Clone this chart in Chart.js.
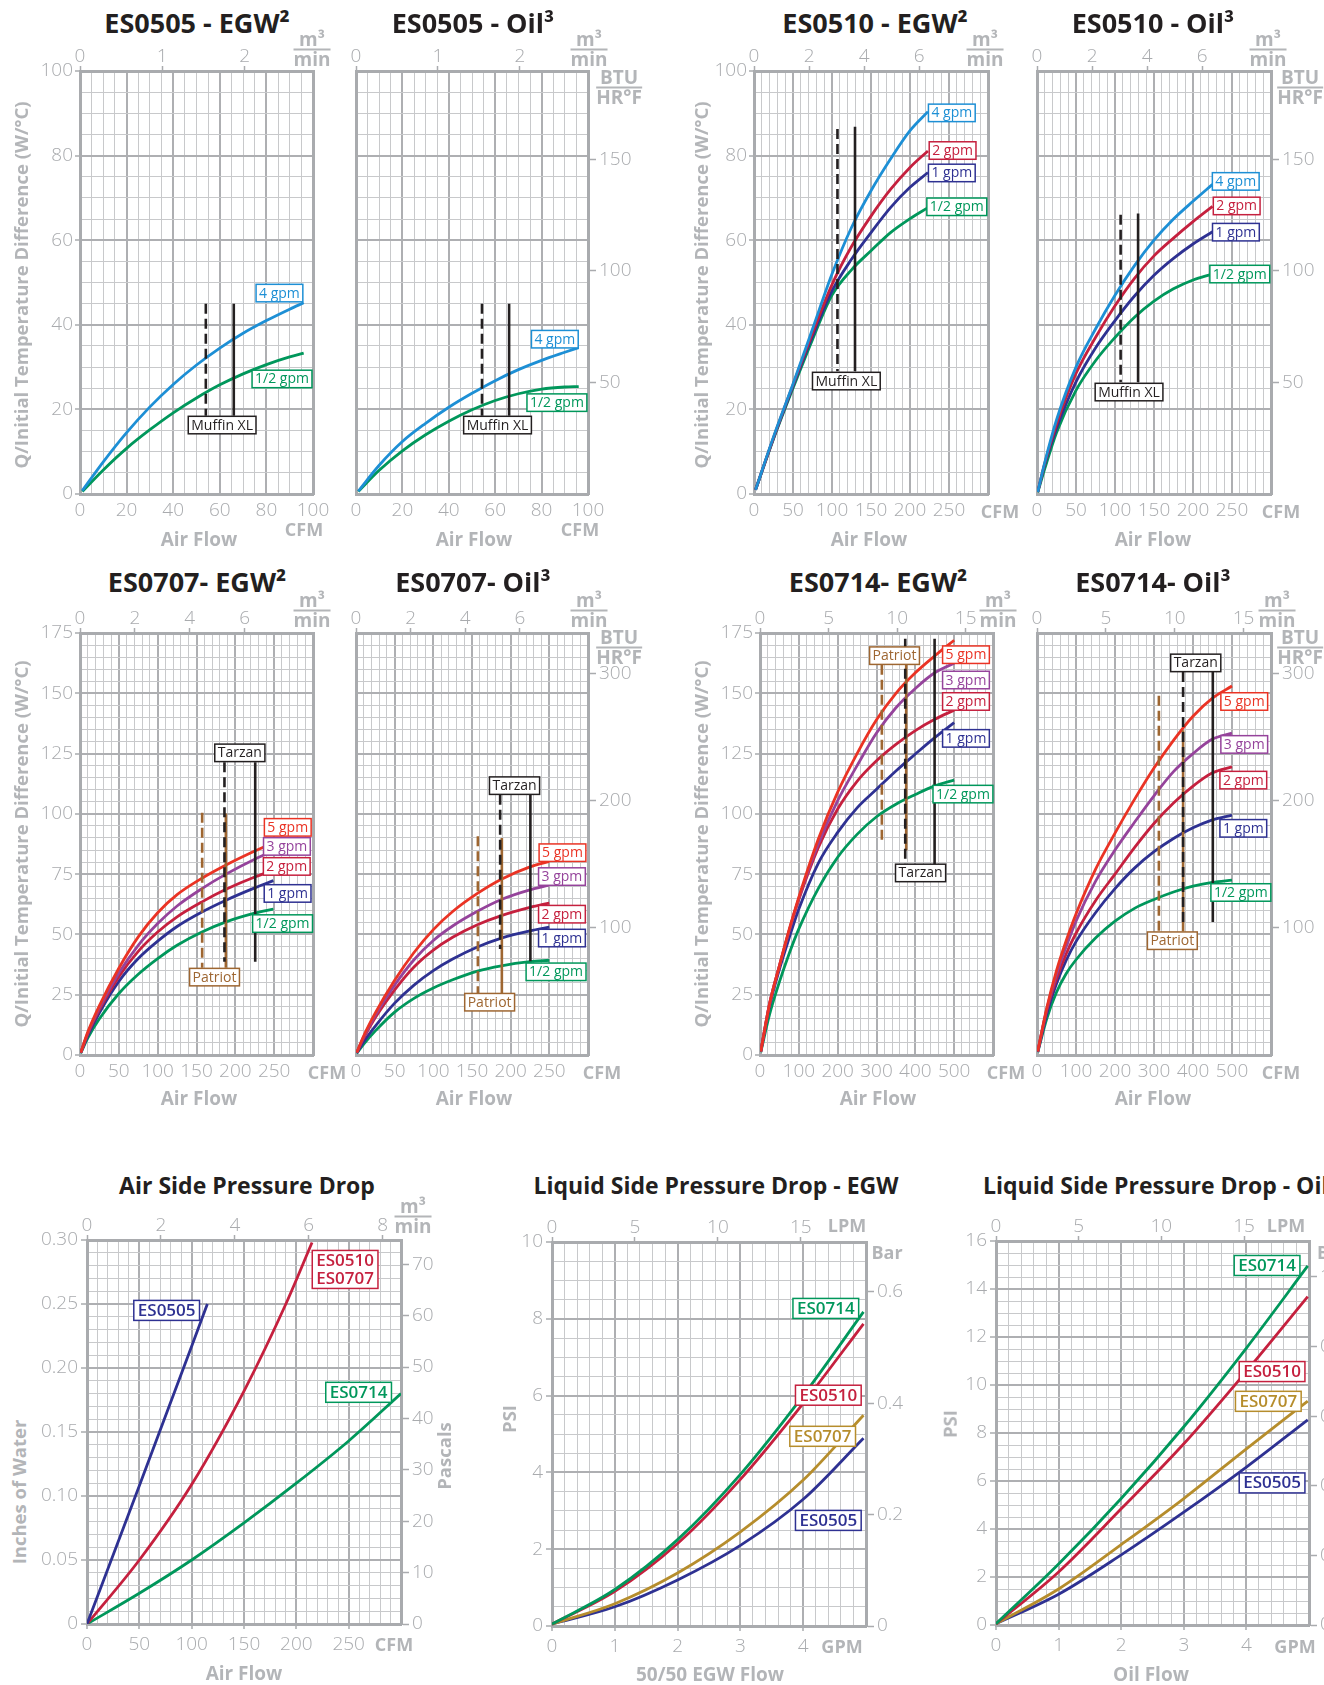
<!DOCTYPE html>
<html>
<head>
<meta charset="utf-8">
<title>ES series performance curves</title>
<script src="https://cdn.jsdelivr.net/npm/chart.js@4.4.1/dist/chart.umd.min.js"></script>
<style>
  html, body { margin: 0; padding: 0; background: #fff; }
  body { position: relative; width: 1324px; height: 1685px; overflow: hidden; font-family: 'Open Sans', 'Noto Sans', sans-serif; }
  canvas { position: absolute; }
  .lbl { position: absolute; white-space: nowrap; transform: translate(-50%, -50%); line-height: 1; }
  .left { transform: translate(0, -50%); }
  .title { font-weight: 700; color: #231f20; font-size: 27px; }
  .title3 { font-size: 23px; }
  .axt { font-weight: 700; color: #b3b5b8; font-size: 19px; }
  .vert { transform: translate(-50%, -50%) rotate(-90deg); font-size: 18.5px; }
  .unit { font-weight: 700; color: #b3b5b8; font-size: 18px; }
  .frac { text-align: center; line-height: 17px; font-size: 19px; }
  .frac span { display: block; }
  .frac span.num { border-bottom: 2px solid #b3b5b8; padding: 0 1px 1px; }
</style>
</head>
<body>
<script>
// ---------------------------------------------------------------
// Data
// ---------------------------------------------------------------

// ES0505 - air flow CFM vs Q/ITD (W/C)
var es0505Cfm = [1, 10, 20, 30, 40, 50, 60, 70, 80, 90, 96];
var es0505Egw4 = [0.8, 7.6, 14.5, 20.6, 25.9, 30.5, 34.5, 38, 41, 43.7, 45.2];
var es0505Egw05 = [0.6, 5.7, 10.8, 15.2, 19.2, 22.7, 25.8, 28.4, 30.6, 32.4, 33.3];
var es0505Oil4 = [0.7, 6.8, 12.4, 16.7, 20.5, 23.8, 26.8, 29.4, 31.6, 33.5, 34.6];
var es0505Oil05 = [0.6, 5.6, 10.2, 14.0, 17.2, 19.9, 22.1, 23.7, 24.8, 25.3, 25.4];

// ES0510
var es0510EgwCfm = [2, 25, 50, 75, 100, 125, 150, 175, 200, 223];
var es0510Egw4 = [1, 13.5, 26, 39, 52, 63, 71.7, 79.2, 85.9, 90.4];
var es0510Egw2 = [1, 13.3, 25.8, 38, 49.5, 58.5, 65.7, 72, 77.2, 81.1];
var es0510Egw1 = [1, 13.2, 25.5, 37.3, 48, 55.5, 61.8, 67.7, 72.5, 76];
var es0510Egw05 = [1, 13, 25, 36.5, 47, 53, 57.5, 61.8, 65.1, 67.7];
var es0510OilCfm = [1, 10, 25, 50, 75, 100, 125, 150, 175, 200, 225];
var es0510Oil4 = [0.5, 7.5, 17.5, 30, 39, 47, 54, 60, 65, 69.2, 73.2];
var es0510Oil2 = [0.5, 7.3, 16.5, 28.5, 37, 44.5, 51, 56.3, 60.5, 64.4, 68];
var es0510Oil1 = [0.5, 7, 15.5, 26.5, 34.5, 41, 46.8, 51.7, 55.7, 59.1, 62];
var es0510Oil05 = [0.4, 6, 14.5, 24.5, 31.5, 37, 41.8, 45.6, 48.5, 50.6, 52];

// ES0707
var es0707EgwCfm = [1, 10, 25, 50, 75, 100, 125, 157, 188, 225, 249];
var es0707Egw5 = [1, 9.5, 20.5, 36, 49, 59, 66.5, 73.3, 78.8, 84.6, 88];
var es0707Egw3 = [1, 9, 19.5, 34, 45.5, 54.5, 61.8, 69, 75, 81.2, 84.5];
var es0707Egw2 = [1, 8.7, 18.7, 32.5, 43, 51, 57.3, 63.5, 68.7, 73.8, 76.5];
var es0707Egw1 = [0.9, 8, 17.5, 30.5, 40, 47.2, 53.3, 59.3, 64.2, 69.3, 72.3];
var es0707Egw05 = [0.8, 7, 15, 25.5, 33.5, 40, 45.5, 51, 55.2, 58.8, 60.5];
var es0707OilCfm = [1, 10, 25, 50, 75, 100, 125, 157, 188, 225, 250];
var es0707Oil5 = [1, 8, 17.5, 31, 42.5, 52, 59.5, 67, 72.9, 78, 80.3];
var es0707Oil3 = [1, 7.5, 16.5, 29, 39.5, 47.5, 53.5, 59.6, 64.5, 68.5, 70.4];
var es0707Oil2 = [1, 7, 15.5, 27, 36.5, 43.5, 48.8, 54, 57.8, 61.2, 63];
var es0707Oil1 = [0.8, 5.5, 12, 21.5, 29, 35, 39.8, 44.8, 48.5, 51.5, 53];
var es0707Oil05 = [0.7, 4.5, 10, 17.8, 23.5, 27.8, 31.2, 34.8, 37, 38.7, 39.3];

// ES0714
var es0714Cfm = [2, 25, 50, 75, 100, 150, 200, 250, 300, 350, 400, 450, 500];
var es0714Egw5 = [1.5, 21.5, 37, 52, 65.5, 89.5, 109, 125, 139, 150, 158.5, 165.5, 172];
var es0714Egw3 = [1.5, 21.5, 37, 51.5, 65, 87.5, 105.5, 120, 133.5, 144, 152, 158.5, 162.5];
var es0714Egw2 = [1.5, 21.5, 37, 51.5, 64.5, 86, 102, 113.5, 122, 128.8, 134.5, 139.2, 143];
var es0714Egw1 = [1.5, 20.5, 35.5, 48.5, 60.5, 79.5, 92.3, 102.5, 110.2, 117.8, 124.8, 131.6, 137.8];
var es0714Egw05 = [1.2, 17, 30.3, 42, 52.3, 69, 82, 91.5, 98.8, 104, 108, 111.6, 114];
var es0714Oil5 = [1.5, 19.5, 35, 47.5, 58.5, 77, 92, 106, 119, 130.5, 140.5, 148, 153];
var es0714Oil3 = [1.5, 19, 33.5, 45, 55.5, 72, 85, 96.5, 107.5, 117.5, 125, 131, 133.5];
var es0714Oil2 = [1.5, 18.5, 31.5, 42, 50.5, 64, 75, 86, 96, 104.5, 111.5, 117, 119.5];
var es0714Oil1 = [1.3, 17, 29.5, 39.3, 47, 59, 69, 77.5, 84.3, 89.8, 94.2, 97.5, 99.5];
var es0714Oil05 = [1.2, 15, 26, 33.8, 39.5, 48.5, 55.5, 60.8, 64.5, 67.6, 70, 71.6, 72.5];

// fan marker lines: [cfm, top, bottom] (dashed first, solid second)
var es0505EgwMuffin = [[54, 45, 18.5], [66, 45, 18.5]];
var es0505OilMuffin = [[54.3, 45, 18.5], [66, 45, 18.5]];
var es0510EgwMuffin = [[107, 86.3, 29], [129.5, 86.8, 29]];
var es0510OilMuffin = [[107.2, 66, 26.4], [129.6, 66.3, 26.4]];
var es0707EgwPatriot = [[157.3, 100.5, 36.2], [187.8, 100.1, 36.2]];
var es0707EgwTarzan = [[186, 121.4, 38.7], [225.6, 121.4, 38.7]];
var es0707OilPatriot = [[157.6, 90.7, 25.6], [188.6, 90, 25.6]];
var es0707OilTarzan = [[186.4, 107.9, 44], [225.5, 107.9, 38.9]];
var es0714EgwPatriot = [[313.8, 161.8, 88.9], [376.5, 161.8, 84.8]];
var es0714EgwTarzan = [[374, 172.6, 79.2], [449.6, 172.6, 79.2]];
var es0714OilPatriot = [[312.5, 149, 51.2], [374.6, 134.7, 51.2]];
var es0714OilTarzan = [[374.6, 158.8, 55], [450.8, 158.8, 55.2]];

// pressure drop
var airCfm0505 = [0, 50, 100, 115];
var airDp0505 = [0, 0.108, 0.217, 0.25];
var airCfm0510 = [0, 50, 100, 150, 190, 215];
var airDp0510 = [0, 0.05, 0.109, 0.182, 0.25, 0.298];
var airCfm0714 = [0, 50, 100, 150, 200, 250, 300];
var airDp0714 = [0, 0.024, 0.050, 0.079, 0.110, 0.143, 0.18];

var egwGpm = [0, 1, 2, 3, 4, 4.96];
var egwPsi0714 = [0.05, 0.95, 2.25, 3.95, 6.0, 8.18];
var egwPsi0510 = [0.05, 0.9, 2.15, 3.82, 5.8, 7.87];
var egwPsi0707 = [0.05, 0.58, 1.38, 2.45, 3.8, 5.49];
var egwPsi0505 = [0.05, 0.5, 1.2, 2.1, 3.3, 4.89];

var oilGpm = [0, 1, 2, 3, 4, 4.98];
var oilPsi0714 = [0.05, 2.54, 5.27, 8.26, 11.54, 14.96];
var oilPsi0510 = [0.05, 2.21, 4.84, 7.55, 10.57, 13.68];
var oilPsi0707 = [0.05, 1.5, 3.35, 5.27, 7.34, 9.33];
var oilPsi0505 = [0.05, 1.28, 2.92, 4.7, 6.58, 8.55];

// curve tags: [text, x, y]
var es0505EgwTags = [['4 gpm', 85.6, 47.5], ['1/2 gpm', 86.7, 27.2], ['Muffin XL', 61, 16.3]];
var es0505OilTags = [['4 gpm', 85.7, 36.6], ['1/2 gpm', 86.6, 21.6], ['Muffin XL', 61, 16.3]];
var es0510EgwTags = [['4 gpm', 253.6, 90.1], ['2 gpm', 254.6, 81.2], ['1 gpm', 253.6, 75.9], ['1/2 gpm', 260, 67.9], ['Muffin XL', 118.4, 26.7]];
var es0510OilTags = [['4 gpm', 254.8, 73.9], ['2 gpm', 256, 68.1], ['1 gpm', 255, 61.9], ['1/2 gpm', 260, 52], ['Muffin XL', 118, 24.1]];
var es0707EgwTags = [['5 gpm', 267.5, 94.4], ['3 gpm', 266.4, 86.5], ['2 gpm', 266.2, 78.2], ['1 gpm', 267.3, 67], ['1/2 gpm', 260.8, 54.5], ['Tarzan', 205.8, 125.3], ['Patriot', 173.2, 32.3]];
var es0707OilTags = [['5 gpm', 267, 83.9], ['3 gpm', 266.3, 74], ['2 gpm', 266.3, 58.4], ['1 gpm', 266.3, 48.5], ['1/2 gpm', 258.7, 34.5], ['Tarzan', 205, 111.7], ['Patriot', 172.8, 21.9]];
var es0714EgwTags = [['5 gpm', 530.4, 166], ['3 gpm', 530.4, 155.5], ['2 gpm', 530.4, 146.6], ['1 gpm', 530.4, 131.3], ['1/2 gpm', 522.6, 108.2], ['Patriot', 346.4, 165.6], ['Tarzan', 413.5, 75.5]];
var es0714OilTags = [['5 gpm', 531.4, 146.6], ['3 gpm', 531.4, 128.8], ['2 gpm', 529, 114], ['1 gpm', 529, 94], ['1/2 gpm', 522.7, 67.4], ['Tarzan', 407, 162.6], ['Patriot', 347, 47.4]];
var airTags = [['ES0505', 76.1, 0.245], ['ES0510\nES0707', 246.6, 0.277], ['ES0714', 259.5, 0.181]];
var egwTags = [['ES0714', 4.36, 8.27], ['ES0510', 4.40, 6.01], ['ES0707', 4.31, 4.94], ['ES0505', 4.40, 2.75]];
var oilTags = [['ES0714', 4.33, 14.98], ['ES0510', 4.41, 10.56], ['ES0707', 4.35, 9.32], ['ES0505', 4.41, 5.92]];

// tick labels
var cfmTicks100 = [0, 20, 40, 60, 80, 100];
var cfmTicks300 = [0, 50, 100, 150, 200, 250];
var cfmTicks600 = [0, 100, 200, 300, 400, 500];
var wTicks100 = [0, 20, 40, 60, 80, 100];
var wTicks175 = [0, 25, 50, 75, 100, 125, 150, 175];
var m3Ticks3 = [0, 1, 2];
var m3Ticks8 = [0, 2, 4, 6];
var m3Ticks17 = [0, 5, 10, 15];
var m3TicksAir = [0, 2, 4, 6, 8];
var btuTicks100 = [50, 100, 150];
var btuTicks175 = [100, 200, 300];
var inchTicks = [0, 0.05, 0.10, 0.15, 0.20, 0.25, 0.30];
var paTicks = [0, 10, 20, 30, 40, 50, 60, 70];
var gpmTicks = [0, 1, 2, 3, 4];
var lpmTicks = [0, 5, 10, 15];
var psiTicksEgw = [0, 2, 4, 6, 8, 10];
var psiTicksOil = [0, 2, 4, 6, 8, 10, 12, 14, 16];
var barTicksEgw = [0, 0.2, 0.4, 0.6];
var barTicksOil = [0, 0.2, 0.4, 0.6, 0.8, 1.0];

// unit conversions for the secondary axes
var CFM_PER_M3MIN = 35.3147;
var BTU_PER_W = 1.8956;
var PA_PER_INH2O = 249.09;
var LPM_PER_GPM = 3.78541;
var BAR_PER_PSI = 0.0689476;

// ---------------------------------------------------------------
// Styles
// ---------------------------------------------------------------
var BLUE = '#1d8fd5', CRIMSON = '#c5203e', NAVY = '#2e3192', GREEN = '#00975b',
    RED = '#ea3324', PURPLE = '#95439b', BROWN = '#9e6631', BLACK = '#231f20', GOLD = '#b68d2c';
var GRID_MINOR = '#c8c9cb', GRID_MAJOR = '#aeafb2', FRAME = '#a9abae', TICK_TXT = '#a9abae';
var TICK_FONT = { size: 19, weight: '300' };
var TAG_FONT = '400 14px "Open Sans", "Noto Sans", sans-serif';
var TAG_FONT_BIG = '600 17px "Open Sans", "Noto Sans", sans-serif';

Chart.defaults.font.family = "'Open Sans', 'Noto Sans', sans-serif";

function steps(max, step) {
    var out = [], n = Math.round(max / step);
    for (var i = 0; i <= n; i++) out.push(+(i * step).toFixed(6));
    return out;
}
function has(list, v) {
    return list.some(function (l) { return Math.abs(l - v) < 1e-6; });
}
function isMajor(v, major) {
    var r = v / major;
    return Math.abs(r - Math.round(r)) < 1e-6;
}
function fixSize(s, horiz, size) {
    if (horiz) s.height = size; else s.width = size;
    s.paddingLeft = s.paddingRight = s.paddingTop = s.paddingBottom = 0;
}
function plain(v) { return String(+v.toFixed(2)); }

// axis that carries the grid (bottom / left)
function gridAxis(pos, spec, size, tickLen, pad, showLabels) {
    var horiz = pos === 'bottom';
    var all = steps(spec.max, spec.step);
    var fmt = spec.fmt || plain;
    return {
        type: 'linear', position: pos, min: 0, max: spec.max,
        afterBuildTicks: function (s) { s.ticks = all.map(function (v) { return { value: v }; }); },
        afterFit: function (s) { fixSize(s, horiz, size); },
        ticks: {
            display: showLabels, autoSkip: false, maxRotation: 0, minRotation: 0, padding: pad,
            color: TICK_TXT, font: TICK_FONT,
            callback: function (v) { return has(spec.labels, v) ? fmt(v) : ''; }
        },
        grid: {
            color: function (c) { return c.tick && isMajor(c.tick.value, spec.major) ? GRID_MAJOR : GRID_MINOR; },
            lineWidth: function (c) { return c.tick && isMajor(c.tick.value, spec.major) ? 2 : 1; },
            drawTicks: showLabels && tickLen > 0, tickLength: tickLen, tickWidth: 1.5,
            tickColor: function (c) { return c.tick && has(spec.labels, c.tick.value) ? FRAME : 'rgba(0,0,0,0)'; }
        },
        border: { display: true, color: FRAME, width: 3 }
    };
}

// secondary unit axis (top / right)
function sideAxis(pos, spec, size, tickLen, pad) {
    var horiz = pos === 'top';
    var labels = spec ? spec.labels : [];
    var fmt = (spec && spec.fmt) || plain;
    return {
        type: 'linear', position: pos, min: 0, max: spec ? spec.max : 1,
        afterBuildTicks: function (s) {
            s.ticks = (labels.length ? labels : [0]).map(function (v) { return { value: v }; });
        },
        afterFit: function (s) { fixSize(s, horiz, size); },
        ticks: {
            display: labels.length > 0, autoSkip: false, maxRotation: 0, minRotation: 0, padding: pad,
            color: TICK_TXT, font: TICK_FONT, callback: function (v) { return fmt(v); }
        },
        grid: {
            display: labels.length > 0, drawOnChartArea: false, drawTicks: true,
            tickLength: tickLen, tickWidth: 1.5, tickColor: FRAME, color: 'rgba(0,0,0,0)'
        },
        border: { display: true, color: FRAME, width: 3 }
    };
}

function curve(xs, ys, color) {
    return {
        data: xs.map(function (x, i) { return { x: x, y: ys[i] }; }),
        borderColor: color, borderWidth: 2.8, pointRadius: 0, fill: false,
        cubicInterpolationMode: 'monotone'
    };
}
function markers(list, color) {
    return list.map(function (m, i) {
        return {
            data: [{ x: m[0], y: m[1] }, { x: m[0], y: m[2] }],
            borderColor: color, borderWidth: 2.6, pointRadius: 0, fill: false,
            borderDash: i === 0 ? [10, 5] : [], borderCapStyle: 'butt'
        };
    });
}
function tags(list, colors, font) {
    return list.map(function (t, i) {
        return { text: t[0], x: t[1], y: t[2], color: colors[i], font: font || TAG_FONT };
    });
}

function tagPlugin(items) {
    return {
        id: 'curveTags',
        afterDatasetsDraw: function (chart) {
            var ctx = chart.ctx, sx = chart.scales.x, sy = chart.scales.y;
            items.forEach(function (t) {
                var lines = t.text.split('\n');
                ctx.save();
                ctx.font = t.font;
                var big = t.font === TAG_FONT_BIG;
                var lh = big ? 18 : 14.5, padX = big ? 4 : 3, padY = big ? 1 : 1.5;
                var w = 0;
                lines.forEach(function (l) { w = Math.max(w, ctx.measureText(l).width); });
                w += padX * 2;
                var h = lines.length * lh + padY * 2;
                var cx = sx.getPixelForValue(t.x), cy = sy.getPixelForValue(t.y);
                ctx.fillStyle = '#fff';
                ctx.fillRect(cx - w / 2, cy - h / 2, w, h);
                ctx.lineWidth = 1.5;
                ctx.strokeStyle = t.color;
                ctx.strokeRect(cx - w / 2, cy - h / 2, w, h);
                ctx.fillStyle = t.color;
                ctx.textAlign = 'center';
                ctx.textBaseline = 'middle';
                lines.forEach(function (l, i) {
                    ctx.fillText(l, cx, cy - h / 2 + padY + lh * (i + 0.5) + 0.5);
                });
                ctx.restore();
            });
        }
    };
}

function makePanel(p) {
    var b = p.box, pad = p.pad;
    var cv = document.createElement('canvas');
    cv.width = b[2] - b[0] + pad[0] + pad[2];
    cv.height = b[3] - b[1] + pad[1] + pad[3];
    cv.style.left = (b[0] - pad[0]) + 'px';
    cv.style.top = (b[1] - pad[1]) + 'px';
    document.body.appendChild(cv);
    new Chart(cv, {
        type: 'line',
        data: { datasets: p.sets },
        options: {
            responsive: false, animation: false, events: [],
            layout: { padding: 0 },
            plugins: { legend: { display: false }, tooltip: { enabled: false } },
            scales: {
                x: gridAxis('bottom', p.x, pad[3], p.bottomTick || 0, p.bottomPad || 5, true),
                x2: sideAxis('top', p.top, pad[1], 5, -2),
                y: gridAxis('left', p.y, pad[0], p.leftTick || 5, p.leftPad || 2, !p.hideY),
                y2: sideAxis('right', p.right, pad[2], 8, 3)
            }
        },
        plugins: [tagPlugin(p.tags)]
    });
}

function put(html, x, y, cls) {
    var d = document.createElement('div');
    d.className = 'lbl ' + cls;
    d.style.left = x + 'px';
    d.style.top = y + 'px';
    d.innerHTML = html;
    document.body.appendChild(d);
}
function frac(num, den, x, y) {
    put('<span class="num">' + num + '</span><span>' + den + '</span>', x, y, 'unit frac');
}

// ---------------------------------------------------------------
// Heat transfer charts
// ---------------------------------------------------------------
var PAD_EGW = [48, 30, 24, 32], PAD_OIL = [30, 30, 58, 32];
var wAxis100 = { max: 100, step: 5, major: 20, labels: wTicks100 };
var wAxis175 = { max: 175, step: 5, major: 25, labels: wTicks175 };
var btuAxis100 = { max: 100 * BTU_PER_W, labels: btuTicks100 };
var btuAxis175 = { max: 175 * BTU_PER_W, labels: btuTicks175 };
var cfm100 = { max: 100, step: 5, major: 20, labels: cfmTicks100 };
var cfm300 = { max: 300, step: 10, major: 50, labels: cfmTicks300 };
var cfm600 = { max: 600, step: 20, major: 100, labels: cfmTicks600 };
var top100 = { max: 100 / CFM_PER_M3MIN, labels: m3Ticks3 };
var top300 = { max: 300 / CFM_PER_M3MIN, labels: m3Ticks8 };
var top600 = { max: 600 / CFM_PER_M3MIN, labels: m3Ticks17 };

makePanel({
    box: [80, 71, 313, 494], pad: PAD_EGW, x: cfm100, y: wAxis100, top: top100, right: null,
    sets: markers(es0505EgwMuffin, BLACK).concat([
        curve(es0505Cfm, es0505Egw4, BLUE), curve(es0505Cfm, es0505Egw05, GREEN)]),
    tags: tags(es0505EgwTags, [BLUE, GREEN, BLACK])
});
makePanel({
    box: [356, 71, 588, 494], pad: PAD_OIL, hideY: true, x: cfm100, y: wAxis100, top: top100, right: btuAxis100,
    sets: markers(es0505OilMuffin, BLACK).concat([
        curve(es0505Cfm, es0505Oil4, BLUE), curve(es0505Cfm, es0505Oil05, GREEN)]),
    tags: tags(es0505OilTags, [BLUE, GREEN, BLACK])
});
makePanel({
    box: [754, 71, 988, 494], pad: PAD_EGW, x: cfm300, y: wAxis100, top: top300, right: null,
    sets: markers(es0510EgwMuffin, BLACK).concat([
        curve(es0510EgwCfm, es0510Egw4, BLUE), curve(es0510EgwCfm, es0510Egw2, CRIMSON),
        curve(es0510EgwCfm, es0510Egw1, NAVY), curve(es0510EgwCfm, es0510Egw05, GREEN)]),
    tags: tags(es0510EgwTags, [BLUE, CRIMSON, NAVY, GREEN, BLACK])
});
makePanel({
    box: [1037, 71, 1271, 494], pad: PAD_OIL, hideY: true, x: cfm300, y: wAxis100, top: top300, right: btuAxis100,
    sets: markers(es0510OilMuffin, BLACK).concat([
        curve(es0510OilCfm, es0510Oil4, BLUE), curve(es0510OilCfm, es0510Oil2, CRIMSON),
        curve(es0510OilCfm, es0510Oil1, NAVY), curve(es0510OilCfm, es0510Oil05, GREEN)]),
    tags: tags(es0510OilTags, [BLUE, CRIMSON, NAVY, GREEN, BLACK])
});

makePanel({
    box: [80, 633, 313, 1055], pad: PAD_EGW, x: cfm300, y: wAxis175, top: top300, right: null,
    sets: markers(es0707EgwTarzan, BLACK).concat(markers(es0707EgwPatriot, BROWN), [
        curve(es0707EgwCfm, es0707Egw5, RED), curve(es0707EgwCfm, es0707Egw3, PURPLE),
        curve(es0707EgwCfm, es0707Egw2, CRIMSON), curve(es0707EgwCfm, es0707Egw1, NAVY),
        curve(es0707EgwCfm, es0707Egw05, GREEN)]),
    tags: tags(es0707EgwTags, [RED, PURPLE, CRIMSON, NAVY, GREEN, BLACK, BROWN])
});
makePanel({
    box: [356, 633, 588, 1055], pad: PAD_OIL, hideY: true, x: cfm300, y: wAxis175, top: top300, right: btuAxis175,
    sets: markers(es0707OilTarzan, BLACK).concat(markers(es0707OilPatriot, BROWN), [
        curve(es0707OilCfm, es0707Oil5, RED), curve(es0707OilCfm, es0707Oil3, PURPLE),
        curve(es0707OilCfm, es0707Oil2, CRIMSON), curve(es0707OilCfm, es0707Oil1, NAVY),
        curve(es0707OilCfm, es0707Oil05, GREEN)]),
    tags: tags(es0707OilTags, [RED, PURPLE, CRIMSON, NAVY, GREEN, BLACK, BROWN])
});
makePanel({
    box: [760, 633, 993, 1055], pad: PAD_EGW, x: cfm600, y: wAxis175, top: top600, right: null,
    sets: markers(es0714EgwTarzan, BLACK).concat(markers(es0714EgwPatriot, BROWN), [
        curve(es0714Cfm, es0714Egw5, RED), curve(es0714Cfm, es0714Egw3, PURPLE),
        curve(es0714Cfm, es0714Egw2, CRIMSON), curve(es0714Cfm, es0714Egw1, NAVY),
        curve(es0714Cfm, es0714Egw05, GREEN)]),
    tags: tags(es0714EgwTags, [RED, PURPLE, CRIMSON, NAVY, GREEN, BROWN, BLACK])
});
makePanel({
    box: [1037, 633, 1271, 1055], pad: PAD_OIL, hideY: true, x: cfm600, y: wAxis175, top: top600, right: btuAxis175,
    sets: markers(es0714OilTarzan, BLACK).concat(markers(es0714OilPatriot, BROWN), [
        curve(es0714Cfm, es0714Oil5, RED), curve(es0714Cfm, es0714Oil3, PURPLE),
        curve(es0714Cfm, es0714Oil2, CRIMSON), curve(es0714Cfm, es0714Oil1, NAVY),
        curve(es0714Cfm, es0714Oil05, GREEN)]),
    tags: tags(es0714OilTags, [RED, PURPLE, CRIMSON, NAVY, GREEN, BLACK, BROWN])
});

// ---------------------------------------------------------------
// Pressure drop charts
// ---------------------------------------------------------------
function twoDec(v) { return v === 0 ? '0' : v.toFixed(2); }
function oneDec(v) { return v === 0 ? '0' : v.toFixed(1); }

makePanel({
    box: [87, 1240, 401, 1624], pad: [50, 30, 46, 36], bottomTick: 5, bottomPad: 4, leftTick: 6, leftPad: 3,
    x: cfm300, y: { max: 0.30, step: 0.01, major: 0.05, labels: inchTicks, fmt: twoDec },
    top: { max: 300 / CFM_PER_M3MIN, labels: m3TicksAir },
    right: { max: 0.30 * PA_PER_INH2O, labels: paTicks },
    sets: [curve(airCfm0505, airDp0505, NAVY), curve(airCfm0510, airDp0510, CRIMSON),
        curve(airCfm0714, airDp0714, GREEN)],
    tags: tags(airTags, [NAVY, CRIMSON, GREEN], TAG_FONT_BIG)
});
makePanel({
    box: [552, 1242, 866, 1626], pad: [48, 30, 56, 36], bottomTick: 5, bottomPad: 4, leftTick: 6, leftPad: 3,
    x: { max: 5, step: 0.2, major: 1, labels: gpmTicks },
    y: { max: 10, step: 0.5, major: 2, labels: psiTicksEgw },
    top: { max: 5 * LPM_PER_GPM, labels: lpmTicks },
    right: { max: 10 * BAR_PER_PSI, labels: barTicksEgw, fmt: oneDec },
    sets: [curve(egwGpm, egwPsi0714, GREEN), curve(egwGpm, egwPsi0510, CRIMSON),
        curve(egwGpm, egwPsi0707, GOLD), curve(egwGpm, egwPsi0505, NAVY)],
    tags: tags(egwTags, [GREEN, CRIMSON, GOLD, NAVY], TAG_FONT_BIG)
});
makePanel({
    box: [996, 1241, 1309, 1625], pad: [48, 30, 56, 36], bottomTick: 5, bottomPad: 4, leftTick: 6, leftPad: 3,
    x: { max: 5, step: 0.2, major: 1, labels: gpmTicks },
    y: { max: 16, step: 0.5, major: 2, labels: psiTicksOil },
    top: { max: 5 * LPM_PER_GPM, labels: lpmTicks },
    right: { max: 16 * BAR_PER_PSI, labels: barTicksOil, fmt: oneDec },
    sets: [curve(oilGpm, oilPsi0714, GREEN), curve(oilGpm, oilPsi0510, CRIMSON),
        curve(oilGpm, oilPsi0707, GOLD), curve(oilGpm, oilPsi0505, NAVY)],
    tags: tags(oilTags, [GREEN, CRIMSON, GOLD, NAVY], TAG_FONT_BIG)
});

// ---------------------------------------------------------------
// Titles and axis names
// ---------------------------------------------------------------
put('ES0505 - EGW²', 197, 22, 'title');
put('ES0505 - Oil³', 473, 22, 'title');
put('ES0510 - EGW²', 875, 22, 'title');
put('ES0510 - Oil³', 1153, 22, 'title');
put('ES0707- EGW²', 197, 581, 'title');
put('ES0707- Oil³', 473, 581, 'title');
put('ES0714- EGW²', 878, 581, 'title');
put('ES0714- Oil³', 1153, 581, 'title');
put('Air Side Pressure Drop', 247, 1185, 'title title3');
put('Liquid Side Pressure Drop - EGW', 716, 1185, 'title title3');
put('Liquid Side Pressure Drop - Oil', 983, 1185, 'title title3 left');

var yName = 'Q/Initial Temperature Difference (W/°C)';
put(yName, 21, 285, 'axt vert');
put(yName, 701, 285, 'axt vert');
put(yName, 21, 844, 'axt vert');
put(yName, 701, 844, 'axt vert');
put('Inches of Water', 19, 1492, 'axt vert');
put('Pascals', 444, 1456, 'axt vert');
put('PSI', 509, 1419, 'axt vert');
put('PSI', 950, 1424, 'axt vert');

[[199, 539], [474, 539], [869, 539], [1153, 539], [199, 1098], [474, 1098], [878, 1098], [1153, 1098], [244, 1673]]
    .forEach(function (p) { put('Air Flow', p[0], p[1], 'axt'); });
put('50/50 EGW Flow', 710, 1674, 'axt');
put('Oil Flow', 1151, 1674, 'axt');

[[304, 529], [580, 529], [1000, 511], [1281, 511], [327, 1072], [602, 1072], [1006, 1072], [1281, 1072], [394, 1644]]
    .forEach(function (p) { put('CFM', p[0], p[1], 'unit'); });
put('GPM', 842, 1646, 'unit');
put('GPM', 1295, 1646, 'unit');
put('LPM', 847, 1225, 'unit');
put('LPM', 1286, 1225, 'unit');
put('Bar', 887, 1252, 'unit');
put('Bar', 1317, 1252, 'unit left');

[[312, 49], [589, 49], [985, 49], [1268, 49], [312, 610], [589, 610], [998, 610], [1277, 610], [413, 1216]]
    .forEach(function (p) { frac('m³', 'min', p[0], p[1]); });
[[619, 87], [1300, 87], [619, 647], [1300, 647]]
    .forEach(function (p) { frac('BTU', 'HR°F', p[0], p[1]); });
</script>
</body>
</html>
